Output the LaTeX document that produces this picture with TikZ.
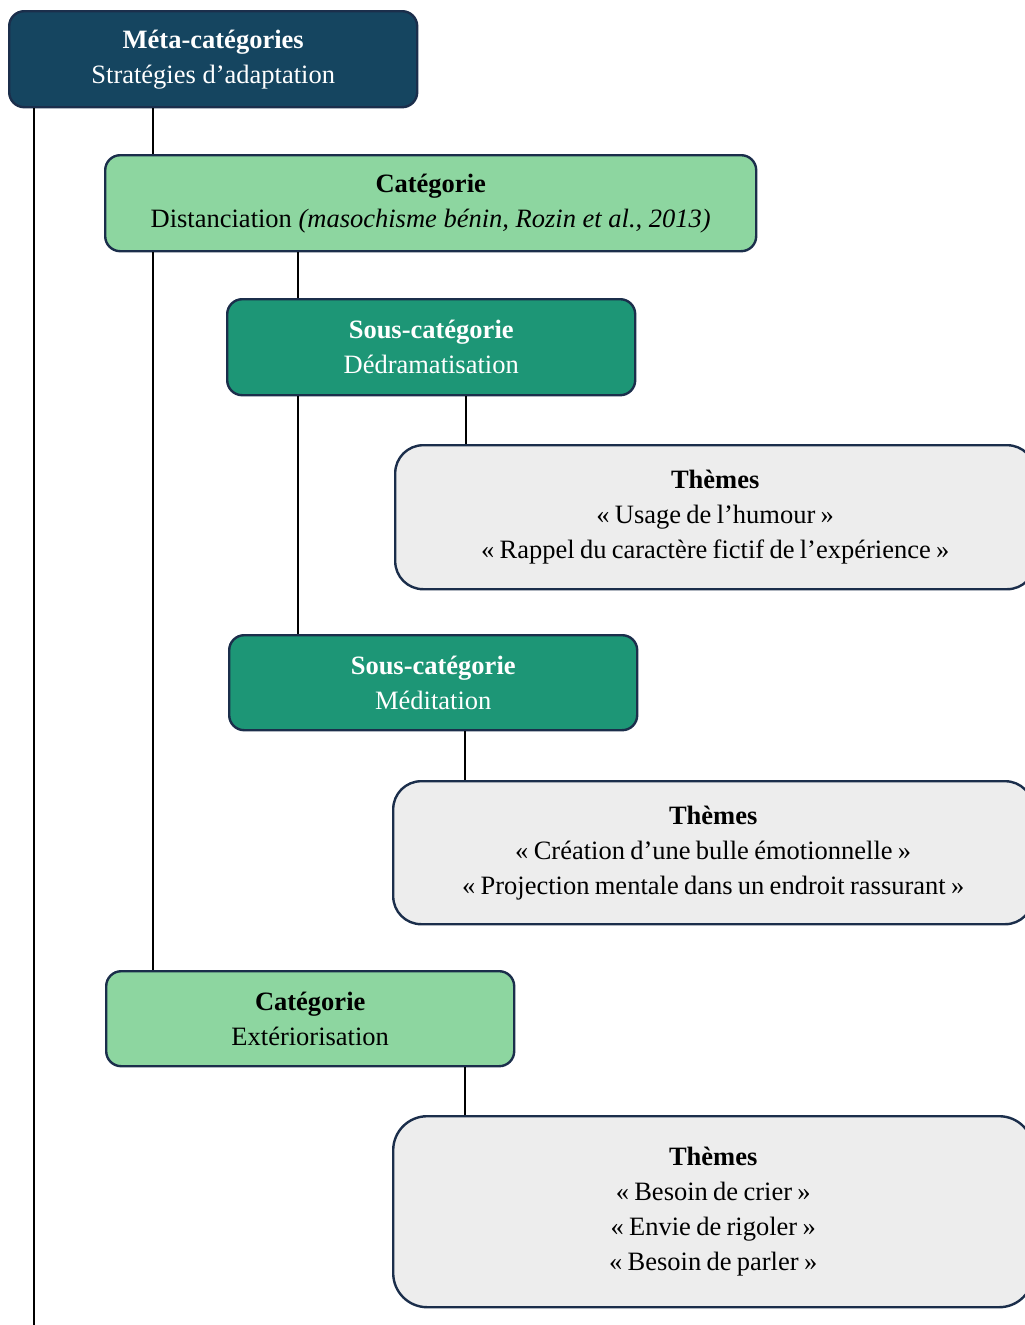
\documentclass[tikz,border=0pt]{standalone}
\usepackage{fontspec}
\setmainfont{Liberation Serif}
\definecolor{metafill}{HTML}{154560}
\definecolor{catfill}{HTML}{8DD6A0}
\definecolor{sousfill}{HTML}{1D9676}
\definecolor{themefill}{HTML}{EDEDED}
\definecolor{edgecol}{HTML}{1B2E4B}
\newcommand{\themetext}[1]{\parbox{640pt}{\centering\spaceskip=0.2em plus 0.1em\relax #1}}
\begin{document}
\begin{tikzpicture}[x=1pt,y=1pt,
  box/.style={draw=edgecol, line width=2.4pt, rounded corners=15pt, anchor=north west,
    inner sep=0pt, align=center, font=\fontsize{26.5}{35}\selectfont},
  metabox/.style={box, fill=metafill, text=white},
  catbox/.style={box, fill=catfill, text=black},
  sousbox/.style={box, fill=sousfill, text=white},
  themebox/.style={box, fill=themefill, text=black, rounded corners=28pt},
  link/.style={draw=black, line width=1.2pt}]
\useasboundingbox (0,0) rectangle (1025,-1325);
\node[metabox, minimum width=408pt, minimum height=96pt] (meta) at (8,-10)
  {\textbf{Méta-catégories}\\Stratégies d’adaptation};
\node[catbox, minimum width=651pt, minimum height=96pt] (cat1) at (104,-154)
  {\textbf{Catégorie}\\Distanciation \textit{(masochisme bénin, Rozin et al., 2013)}};
\node[sousbox, minimum width=408pt, minimum height=96pt] (sous1) at (226,-298)
  {\textbf{Sous-catégorie}\\Dédramatisation};
\node[themebox, minimum width=640pt, minimum height=144pt] (th1) at (394,-444)
  {\themetext{\textbf{Thèmes}\\« Usage de l’humour »\\« Rappel du caractère fictif de l’expérience »}};
\node[sousbox, minimum width=408pt, minimum height=95pt] (sous2) at (228,-634)
  {\textbf{Sous-catégorie}\\Méditation};
\node[themebox, minimum width=640pt, minimum height=143pt] (th2) at (392,-780)
  {\themetext{\textbf{Thèmes}\\« Création d’une bulle émotionnelle »\\« Projection mentale dans un endroit rassurant »}};
\node[catbox, minimum width=408pt, minimum height=95pt] (cat2) at (105,-970)
  {\textbf{Catégorie}\\Extériorisation};
\node[themebox, minimum width=640pt, minimum height=191pt, rounded corners=34pt] (th3) at (392,-1115)
  {\themetext{\textbf{Thèmes}\\« Besoin de crier »\\« Envie de rigoler »\\« Besoin de parler »}};
\coordinate (bottomend) at (34,-1325);
% connectors
\draw[link] ([xshift=26pt]meta.south west) -- (bottomend);
\draw[link] ([xshift=145pt]meta.south west) -- ([xshift=145pt]meta.south west |- cat1.north);
\draw[link] ([xshift=49pt]cat1.south west) -- ([xshift=49pt]cat1.south west |- cat2.north);
\draw[link] ([xshift=194pt]cat1.south west) -- ([xshift=194pt]cat1.south west |- sous1.north);
\draw[link] ([xshift=72pt]sous1.south west) -- ([xshift=72pt]sous1.south west |- sous2.north);
\draw[link] ([xshift=240pt]sous1.south west) -- ([xshift=240pt]sous1.south west |- th1.north);
\draw[link] ([xshift=237pt]sous2.south west) -- ([xshift=237pt]sous2.south west |- th2.north);
\draw[link] ([xshift=360pt]cat2.south west) -- ([xshift=360pt]cat2.south west |- th3.north);
\end{tikzpicture}
\end{document}
